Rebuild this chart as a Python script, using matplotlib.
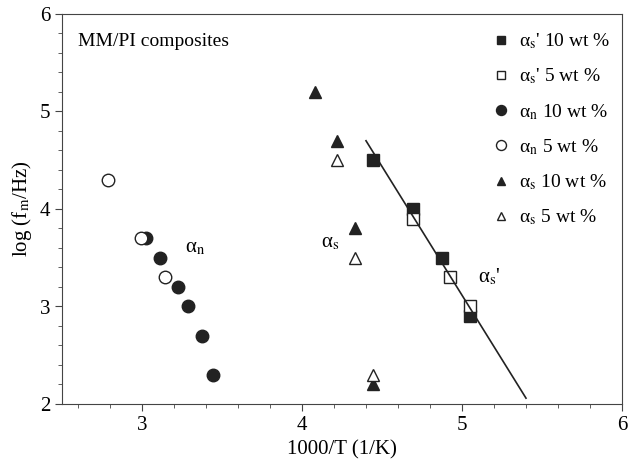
import numpy as np
import matplotlib
matplotlib.use('Agg')
import matplotlib.pyplot as plt
from matplotlib.ticker import MultipleLocator

plt.rcParams['font.family'] = 'Liberation Serif'
plt.rcParams['mathtext.fontset'] = 'stix'

# alpha_s' (10 and 5 wt %)
asp10_x = [4.446, 4.696, 4.877, 5.05]
asp10_y = [4.50, 4.00, 3.50, 2.90]
asp5_x = [4.696, 4.925, 5.05]
asp5_y = [3.90, 3.30, 3.00]
# alpha_n
an10_x = [3.023, 3.114, 3.225, 3.29, 3.377, 3.446]
an10_y = [3.70, 3.50, 3.20, 3.00, 2.70, 2.30]
an5_x = [2.786, 2.994, 3.144]
an5_y = [4.30, 3.70, 3.30]
# alpha_s
as10_x = [4.08, 4.22, 4.33, 4.446]
as10_y = [5.20, 4.70, 3.80, 2.20]
as5_x = [4.22, 4.33, 4.446]
as5_y = [4.50, 3.50, 2.30]
# fitted line through alpha_s'
fit_x = [4.40, 5.40]
fit_y = [4.70, 2.06]

fig = plt.figure(figsize=(6.28, 4.68), dpi=100)
ax = fig.add_axes([62/628, 64/468, 560/628, 390/468])

ms = 8
h1, = ax.plot(asp10_x, asp10_y, 's', color='#222222', ms=ms, ls='none')
h2, = ax.plot(asp5_x, asp5_y, 's', mfc='white', mec='#222222', ms=ms, mew=1, ls='none')
h3, = ax.plot(an10_x, an10_y, 'o', color='#222222', ms=ms+1, ls='none')
h4, = ax.plot(an5_x, an5_y, 'o', mfc='white', mec='#222222', ms=ms+1, mew=1, ls='none')
h5, = ax.plot(as10_x, as10_y, '^', color='#222222', ms=ms, ls='none')
h6, = ax.plot(as5_x, as5_y, '^', mfc='white', mec='#222222', ms=ms, mew=1, ls='none')
ax.plot(fit_x, fit_y, color='#222222', lw=1.2)

labels = ["α$_\\mathrm{s}$' 10 wt %", "α$_\\mathrm{s}$' 5 wt %",
          "α$_\\mathrm{n}$ 10 wt %", "α$_\\mathrm{n}$ 5 wt %",
          "α$_\\mathrm{s}$ 10 wt %", "α$_\\mathrm{s}$ 5 wt %"]
leg = ax.legend([h1, h2, h3, h4, h5, h6], labels, loc='upper right',
                bbox_to_anchor=(1.0, 0.985),
                frameon=False, fontsize=14, handlelength=0.8,
                handletextpad=0.5, labelspacing=0.8, markerscale=0.8,
                borderaxespad=0.2)

ax.text(2.6, 5.72, 'MM/PI composites', fontsize=14, va='center')
ax.text(3.27, 3.60, 'α$_\\mathrm{n}$', fontsize=15, va='center')
ax.text(4.12, 3.65, 'α$_\\mathrm{s}$', fontsize=15, va='center')
ax.text(5.10, 3.30, "α$_\\mathrm{s}$'", fontsize=15, va='center')

ax.set_xlim(2.5, 6)
ax.set_ylim(2, 6)
ax.xaxis.set_major_locator(MultipleLocator(1))
ax.xaxis.set_minor_locator(MultipleLocator(0.2))
ax.yaxis.set_major_locator(MultipleLocator(1))
ax.yaxis.set_minor_locator(MultipleLocator(0.2))
ax.tick_params(which='both', direction='out', top=False, right=False,
               labelsize=15, color='#444444')
ax.tick_params(which='major', length=5)
ax.tick_params(which='minor', length=3)
for s in ax.spines.values():
    s.set_color('#444444')

ax.set_xlabel('1000/T (1/K)', fontsize=15)
ax.set_ylabel('log (f$_\\mathrm{m}$/Hz)', fontsize=15)

fig.savefig('out.png', dpi=100)
